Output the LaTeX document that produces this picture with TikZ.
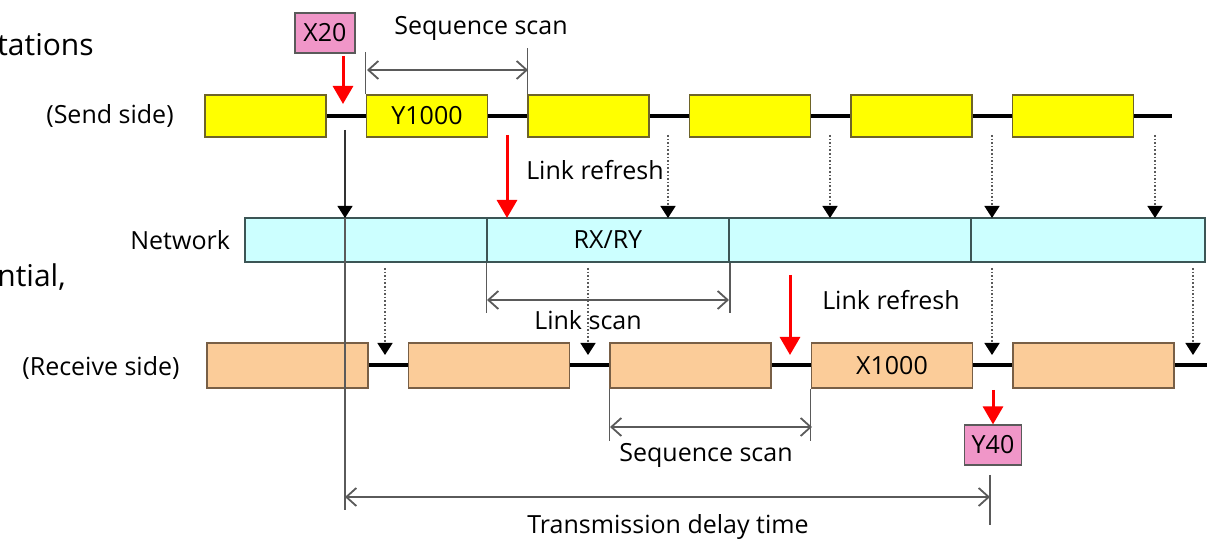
\documentclass[tikz,border=0pt]{standalone}
\usepackage{fontspec}
\setmainfont{Open Sans}
\usetikzlibrary{positioning,arrows.meta}
\definecolor{sendyellow}{RGB}{255,255,0}
\definecolor{netcyan}{RGB}{204,255,255}
\definecolor{recvorange}{RGB}{251,204,153}
\definecolor{devpink}{RGB}{240,150,200}
\definecolor{sendedge}{RGB}{110,100,40}
\definecolor{recvedge}{RGB}{120,95,70}
\definecolor{netedge}{RGB}{60,85,85}
\definecolor{dimgrey}{RGB}{90,90,90}

\begin{document}
\begin{tikzpicture}[x=0.5pt, y=-0.5pt, font=\fontsize{12.5}{15}\selectfont,
    sendbox/.style={draw=sendedge, fill=sendyellow, line width=0.8pt, minimum width=60.5pt, minimum height=21pt, inner sep=0pt},
    recvbox/.style={draw=recvedge, fill=recvorange, line width=0.8pt, minimum width=80.5pt, minimum height=22.5pt, inner sep=0pt},
    netbox/.style={draw=netedge, fill=netcyan, line width=0.8pt, minimum height=22pt, inner sep=0pt},
    devbox/.style={draw=dimgrey, fill=devpink, line width=0.6pt, minimum height=20pt, inner sep=0pt},
    timeline/.style={line width=2pt, black},
    redarrow/.style={red, line width=1.5pt, -{Triangle[length=9pt,width=10pt]}},
    dotarrow/.style={dimgrey, densely dotted, line width=0.8pt, -{Triangle[length=6pt,width=7.5pt,black]}},
    solidarrow/.style={black!80, line width=0.6pt, -{Triangle[length=6pt,width=7.5pt,black]}},
    dimline/.style={dimgrey, line width=0.9pt, {Straight Barb[length=5pt,width=9pt]}-{Straight Barb[length=5pt,width=9pt]}},
    tickline/.style={dimgrey, line width=0.7pt}]
    \useasboundingbox (0,0) rectangle (1207,539);

    % cut-off text at the left edge
    \node[anchor=west, inner sep=0pt, font=\fontsize{15}{18}\selectfont] (lefttop) at (-3,45) {tations};
    \node[anchor=west, inner sep=0pt, font=\fontsize{15}{18}\selectfont] (leftmid) at (-3,277) {ntial,};

    % send side
    \node (sendlabel) at (110,116) {(Send side)};
    \foreach \i/\t in {1/{},2/Y1000,3/{},4/{},5/{},6/{}}
      \node[sendbox] (s\i) at ({265.5+(\i-1)*161.5},116) {\t};
    \foreach \i [count=\j from 2] in {1,...,5}
      \draw[timeline] (s\i.east) -- (s\j.west);
    \draw[timeline] (s6.east) -- ++(38,0);

    % network
    \node[anchor=east] (netlabel) at (237,240) {Network};
    \foreach \i/\xc/\w in {0/366/121pt,1/608/121pt,2/850/121pt,3/1088/117pt}
      \node[netbox, minimum width=\w] (n\i) at (\xc,240) {};
    \node (rxry) at (n1) {RX/RY};

    % receive side
    \node (recvlabel) at (101,368) {(Receive side)};
    \foreach \i/\t in {1/{},2/{},3/{},4/X1000,5/{}}
      \node[recvbox] (r\i) at ({287.5+(\i-1)*201.5},365.5) {\t};
    \foreach \i [count=\j from 2] in {1,...,4}
      \draw[timeline] (r\i.east) -- (r\j.west);
    \draw[timeline] (r5.east) -- ++(36,0);

    % devices
    \node[devbox, minimum width=30pt] (x20) at (325,33) {X20};
    \node[devbox, minimum width=28.5pt] (y40) at (993,445) {Y40};

    % red arrows
    \draw[redarrow] (343,56) -- (343,104);
    \draw[redarrow] (507,135) -- (507,218);
    \draw[redarrow] (790,275) -- (790,355);
    \draw[redarrow] (993,390) -- (y40.north);

    % link refresh arrows
    \draw[solidarrow] (345,130) -- (345,218);
    \foreach \x in {668,830,992,1155}
      \draw[dotarrow] (\x,135) -- (\x,218);
    \foreach \x in {385,588,992,1193}
      \draw[dotarrow] (\x,268) -- (\x,355);
    \node (refresha) at (595,170) {Link refresh};
    \node (refreshb) at (891,300) {Link refresh};

    % sequence scan (send)
    \draw[tickline] (s2.north west) -- ++(0,-42);
    \draw[tickline] (s3.north west) -- ++(0,-46);
    \draw[dimline] (367,70) -- (528,70);
    \node (seqa) at (481,28) {Sequence scan};

    % link scan
    \draw[tickline] (n1.south west) -- ++(0,50);
    \draw[tickline] (n1.south east) -- ++(0,50);
    \draw[dimline] (487,300) -- (729,300);
    \node (linkscan) at (588,320) {Link scan};

    % sequence scan (receive)
    \draw[tickline] (r3.south west) -- ++(0,52);
    \draw[tickline] (r4.south west) -- ++(0,52);
    \draw[dimline] (610,427) -- (812,427);
    \node (seqb) at (706,455) {Sequence scan};

    % transmission delay time
    \draw[tickline] (345,218) -- (345,510);
    \draw[tickline] (990,475) -- (990,525);
    \draw[dimline] (345,497) -- (990,497);
    \node (delay) at (668,527) {Transmission delay time};
\end{tikzpicture}
\end{document}
